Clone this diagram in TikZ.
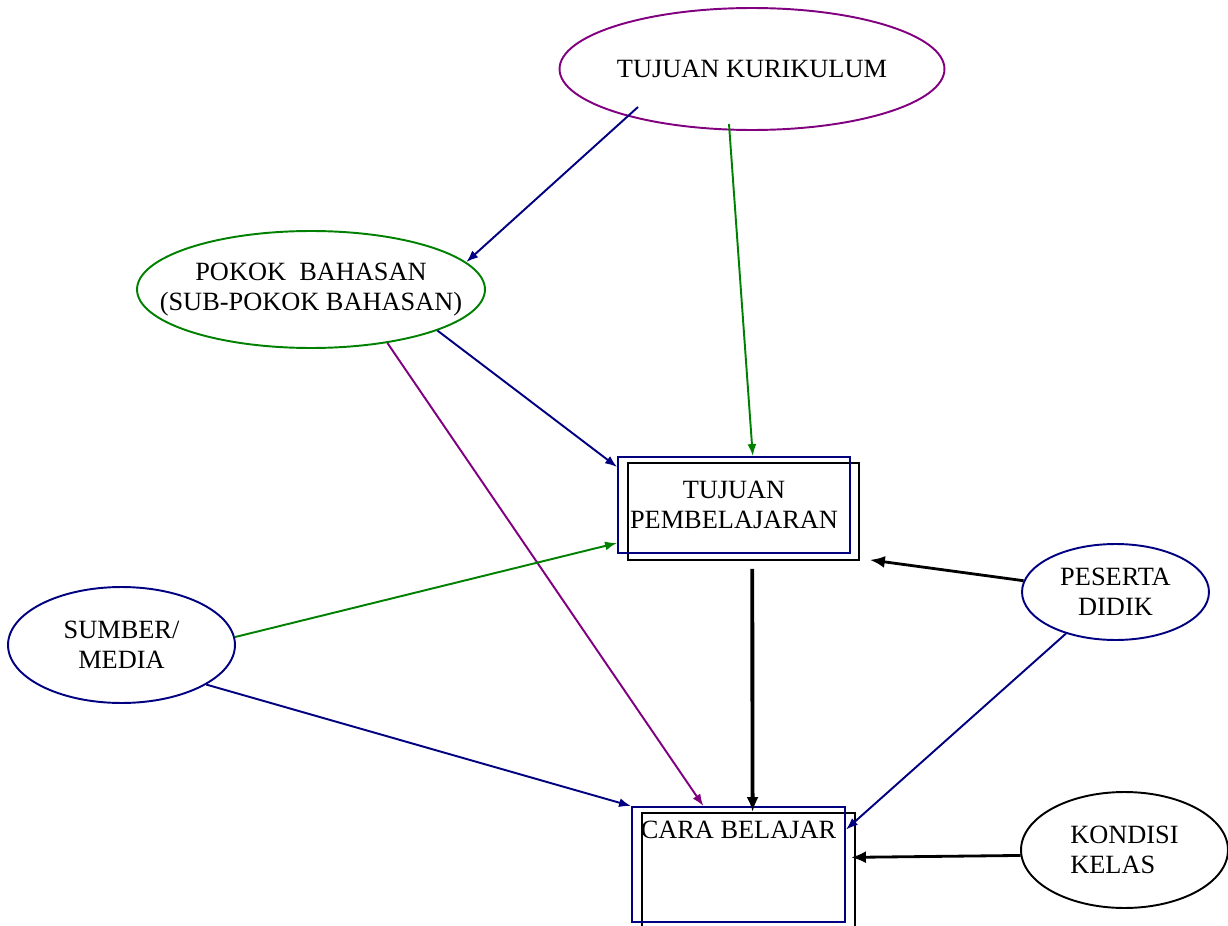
\documentclass[tikz,border=0pt]{standalone}
\usepackage{fontspec}
\setmainfont{Liberation Serif}
\usepackage{xcolor}
\usepackage{tikz}
\usetikzlibrary{calc, shapes.geometric, positioning, arrows.meta}

\definecolor{navyline}{RGB}{0,0,128}
\definecolor{greenline}{RGB}{0,128,0}
\definecolor{purpleline}{RGB}{128,0,128}

\begin{document}
\begin{tikzpicture}[>={Latex[length=0.24cm, width=0.18cm]}, x=0.02cm, y=-0.02cm,
    every node/.style={font=\fontsize{15}{17}\selectfont, inner sep=0pt, align=center},
    oval/.style={ellipse, draw, line width=1.1pt},
    bluebox/.style={rectangle, draw=navyline, line width=1.1pt},
    backbox/.style={rectangle, draw=black, line width=1.1pt},
    link/.style={->, line width=1.1pt}]
    \useasboundingbox (0,0) rectangle (1228,926);

    % 1. Các hình elip
    \node[oval, draw=purpleline, minimum width=7.70cm, minimum height=2.44cm] (kur) at (752,69) {TUJUAN KURIKULUM};
    \node[oval, draw=greenline, minimum width=6.96cm, minimum height=2.34cm, inner xsep=-0.6cm] (pokok) at (311,289.5) {POKOK~~BAHASAN\\(SUB-POKOK BAHASAN)};
    \node[oval, draw=navyline, minimum width=4.54cm, minimum height=2.32cm] (sm) at (121.5,645) {SUMBER/\\MEDIA};
    \node[oval, draw=navyline, minimum width=3.74cm, minimum height=1.92cm] (pd) at (1115.5,592) {PESERTA\\DIDIK};
    \node[oval, draw=black, minimum width=4.14cm, minimum height=2.32cm, align=left] (kk) at (1124.5,850) {KONDISI\\KELAS};

    % 2. Các hình chữ nhật (khung đôi)
    \node[backbox, minimum width=4.62cm, minimum height=1.94cm] (tpback) at (743.5,511.5) {};
    \node[bluebox, minimum width=4.64cm, minimum height=1.92cm] (tp) at (734,505) {TUJUAN\\PEMBELAJARAN};
    \node[backbox, minimum width=4.26cm, minimum height=2.30cm] (cbback) at (748.5,870.5) {};
    \node[bluebox, minimum width=4.26cm, minimum height=2.30cm,
        label={[name=cbtext, anchor=north, yshift=-0.3cm]north:CARA BELAJAR}] (cb) at (738.5,864.5) {};

    % 3. Các mũi tên
    \draw[link, navyline] ($(kur)+(-114,38)$) -- (pokok.10.6);
    \draw[link, greenline] ($(kur)+(-23,55)$) -- (tp.69);
    \draw[link, navyline] (pokok.-18) -- (tp.162);
    \draw[link, purpleline] (pokok.-35) -- (cb.121);
    \draw[link, greenline] (sm.4) -- (tp.198);
    \draw[link, navyline] (sm.-25) -- (cb.north west);
    \draw[->, >={Latex[length=0.3cm, width=0.24cm]}, line width=2.2pt, shorten <=0.16cm] (tpback.-80) -- (cbback.86.5);
    \draw[->, >={Latex[length=0.3cm, width=0.24cm]}, line width=1.6pt, shorten >=0.2cm] (pd.173) -- (tpback.-22);
    \draw[link, navyline] (pd.220) -- (cb.18);
    \draw[->, >={Latex[length=0.3cm, width=0.24cm]}, line width=1.6pt, shorten >=-0.1cm] (kk.183) -- (cbback.7.75);

\end{tikzpicture}
\end{document}
